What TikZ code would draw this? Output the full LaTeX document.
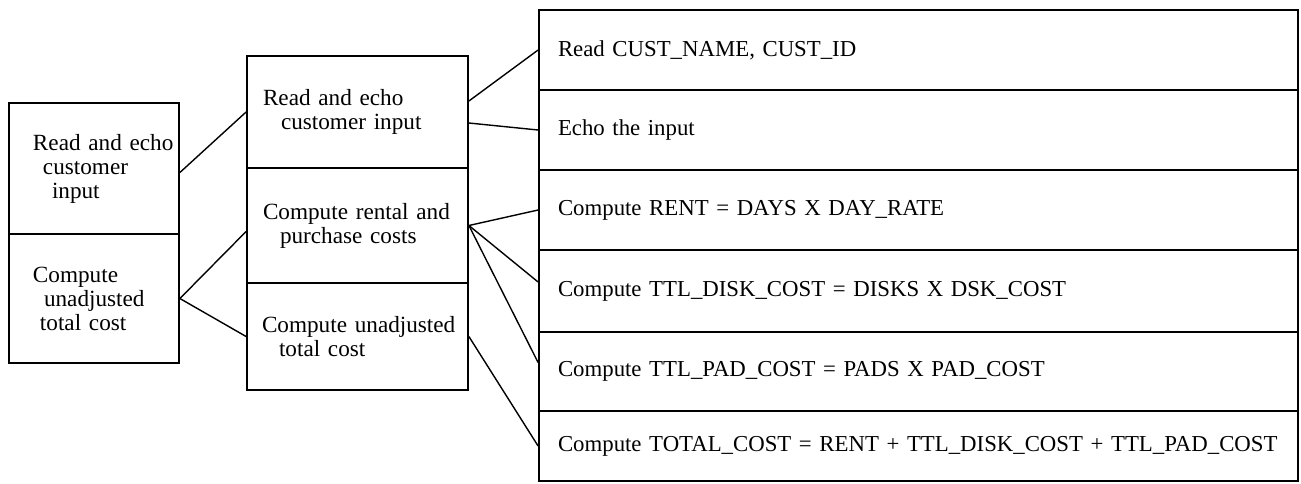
\documentclass[tikz,border=0pt]{standalone}
\usepackage{fontspec}
\setmainfont{Liberation Serif}
\begin{document}
\begin{tikzpicture}[x=0.5pt,y=-0.5pt,
  lvlbox/.style={draw, line width=0.9pt, rectangle, inner xsep=0pt, inner ysep=0pt,
    align=left, font=\fontsize{11.6}{12}\selectfont},
  lvlone/.style={lvlbox, minimum width=85pt, text width=85pt},
  lvltwo/.style={lvlbox, minimum width=110.5pt, text width=110.5pt},
  lvlthree/.style={lvlbox, minimum width=379.5pt, text width=379.5pt,
    font=\fontsize{11.4}{12}\selectfont},
  link/.style={line width=0.7pt}]
  \useasboundingbox (0,0) rectangle (1301,483);

  % Top level
  \node[lvlone, minimum height=65.5pt] (c1a) at (94,168.5)
    {\hspace*{12pt}Read and echo\\\hspace*{17pt}customer\\\hspace*{21.5pt}input};
  \node[lvlone, minimum height=64.5pt] (c1b) at (94,298.5)
    {\hspace*{12pt}Compute\\\hspace*{17.5pt}unadjusted\\\hspace*{15.5pt}total cost};

  % Second level
  \node[lvltwo, minimum height=56pt] (c2a) at (357.5,112)
    {\hspace*{8pt}Read and echo\\\hspace*{17pt}customer input};
  \node[lvltwo, minimum height=57.5pt] (c2b) at (357.5,225.5)
    {\hspace*{8pt}Compute rental and\\\hspace*{16.5pt}purchase costs};
  \node[lvltwo, minimum height=53.5pt] (c2c) at (357.5,336.5)
    {\hspace*{7.5pt}Compute unadjusted\\\hspace*{16pt}total cost};

  % Third level
  \node[lvlthree, minimum height=40pt] (c3a) at (918.5,50)
    {\hspace*{9.5pt}Read CUST\_NAME, CUST\_ID};
  \node[lvlthree, minimum height=40pt] (c3b) at (918.5,130)
    {\hspace*{9.5pt}Echo the input};
  \node[lvlthree, minimum height=40pt] (c3c) at (918.5,210)
    {\hspace*{9.5pt}Compute RENT = DAYS X DAY\_RATE};
  \node[lvlthree, minimum height=41pt] (c3d) at (918.5,291)
    {\hspace*{9.5pt}Compute TTL\_DISK\_COST = DISKS X DSK\_COST};
  \node[lvlthree, minimum height=39.5pt] (c3e) at (918.5,371.5)
    {\hspace*{9.5pt}Compute TTL\_PAD\_COST = PADS X PAD\_COST};
  \node[lvlthree, minimum height=35pt] (c3f) at (918.5,446)
    {\hspace*{9.5pt}Compute TOTAL\_COST = RENT + TTL\_DISK\_COST + TTL\_PAD\_COST};

  % Links, top to second level
  \draw[link] ([yshift=-2pt]c1a.east) -- (c2a.west);
  \draw[link] (c1b.east) -- ([yshift=-3pt]c2b.west);
  \draw[link] (c1b.east) -- (c2c.west);

  % Links, second to third level
  \draw[link] ([yshift=5.5pt]c2a.east) -- (c3a.west);
  \draw[link] ([yshift=-5.5pt]c2a.east) -- (c3b.west);
  \draw[link] (c2b.east) -- (c3c.west);
  \draw[link] (c2b.east) -- ([yshift=4.5pt]c3d.west);
  \draw[link] (c2b.east) -- ([yshift=4.5pt]c3e.west);
  \draw[link] (c2c.east) -- (c3f.west);
\end{tikzpicture}
\end{document}
